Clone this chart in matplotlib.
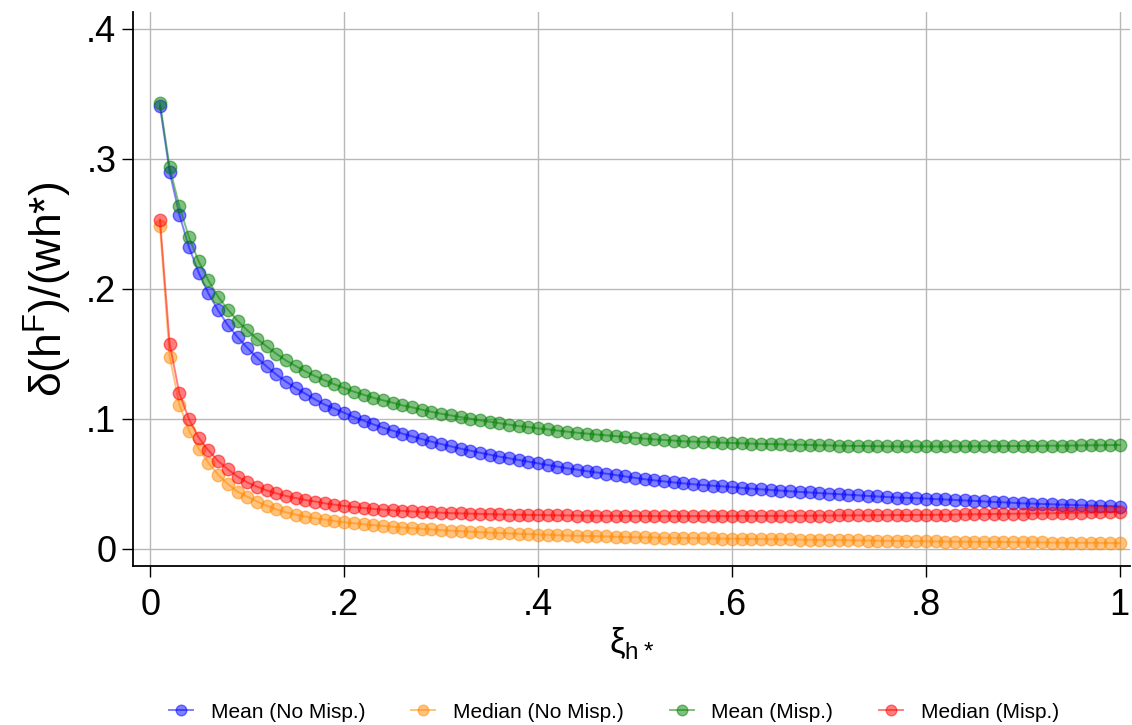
import numpy as np
import matplotlib.pyplot as plt

plt.rcParams['font.family'] = ['Liberation Sans', 'DejaVu Sans']
plt.rcParams['mathtext.fontset'] = 'custom'
plt.rcParams['mathtext.rm'] = 'Liberation Sans'

# elasticity grid 0.01 .. 1.00
xi = np.arange(1, 101) / 100

mean_no_misp = [
    0.3405, 0.2900, 0.2570, 0.2318, 0.2123, 0.1964, 0.1833, 0.1720, 0.1628, 0.1546,
    0.1470, 0.1402, 0.1340, 0.1285, 0.1235, 0.1192, 0.1148, 0.1108, 0.1077, 0.1046,
    0.1012, 0.0985, 0.0956, 0.0931, 0.0908, 0.0885, 0.0864, 0.0843, 0.0823, 0.0805,
    0.0787, 0.0769, 0.0754, 0.0738, 0.0723, 0.0708, 0.0695, 0.0682, 0.0669, 0.0656,
    0.0643, 0.0631, 0.0618, 0.0608, 0.0596, 0.0586, 0.0577, 0.0566, 0.0555, 0.0544,
    0.0534, 0.0525, 0.0517, 0.0509, 0.0502, 0.0495, 0.0489, 0.0484, 0.0479, 0.0474,
    0.0467, 0.0461, 0.0456, 0.0451, 0.0446, 0.0441, 0.0436, 0.0432, 0.0427, 0.0423,
    0.0419, 0.0414, 0.0410, 0.0405, 0.0401, 0.0397, 0.0393, 0.0390, 0.0388, 0.0385,
    0.0381, 0.0378, 0.0374, 0.0370, 0.0367, 0.0363, 0.0359, 0.0356, 0.0352, 0.0348,
    0.0346, 0.0343, 0.0341, 0.0338, 0.0336, 0.0333, 0.0331, 0.0328, 0.0326, 0.0323,
]

median_no_misp = [
    0.2482, 0.1477, 0.1108, 0.0908, 0.0769, 0.0659, 0.0569, 0.0497, 0.0438, 0.0400,
    0.0362, 0.0331, 0.0302, 0.0279, 0.0262, 0.0246, 0.0233, 0.0223, 0.0212, 0.0202,
    0.0195, 0.0187, 0.0180, 0.0174, 0.0168, 0.0162, 0.0157, 0.0152, 0.0147, 0.0142,
    0.0138, 0.0134, 0.0130, 0.0126, 0.0123, 0.0120, 0.0117, 0.0114, 0.0111, 0.0108,
    0.0106, 0.0103, 0.0101, 0.0099, 0.0097, 0.0095, 0.0093, 0.0091, 0.0089, 0.0087,
    0.0086, 0.0085, 0.0083, 0.0082, 0.0081, 0.0080, 0.0079, 0.0078, 0.0077, 0.0076,
    0.0075, 0.0074, 0.0073, 0.0072, 0.0071, 0.0070, 0.0069, 0.0068, 0.0067, 0.0066,
    0.0065, 0.0064, 0.0063, 0.0062, 0.0061, 0.0060, 0.0059, 0.0058, 0.0057, 0.0056,
    0.0055, 0.0054, 0.0053, 0.0053, 0.0052, 0.0051, 0.0050, 0.0050, 0.0049, 0.0048,
    0.0047, 0.0047, 0.0046, 0.0046, 0.0045, 0.0045, 0.0044, 0.0044, 0.0043, 0.0043,
]

mean_misp = [
    0.3430, 0.2935, 0.2635, 0.2395, 0.2210, 0.2064, 0.1938, 0.1840, 0.1754, 0.1680,
    0.1615, 0.1556, 0.1500, 0.1448, 0.1405, 0.1364, 0.1328, 0.1295, 0.1264, 0.1236,
    0.1208, 0.1184, 0.1161, 0.1141, 0.1123, 0.1102, 0.1087, 0.1069, 0.1053, 0.1038,
    0.1025, 0.1012, 0.1000, 0.0987, 0.0977, 0.0966, 0.0954, 0.0943, 0.0935, 0.0925,
    0.0918, 0.0908, 0.0900, 0.0892, 0.0885, 0.0878, 0.0872, 0.0866, 0.0859, 0.0852,
    0.0846, 0.0841, 0.0836, 0.0831, 0.0826, 0.0823, 0.0821, 0.0818, 0.0815, 0.0813,
    0.0810, 0.0808, 0.0806, 0.0804, 0.0803, 0.0801, 0.0799, 0.0797, 0.0795, 0.0794,
    0.0792, 0.0791, 0.0790, 0.0789, 0.0788, 0.0787, 0.0786, 0.0786, 0.0786, 0.0786,
    0.0786, 0.0786, 0.0787, 0.0787, 0.0787, 0.0788, 0.0788, 0.0789, 0.0789, 0.0790,
    0.0790, 0.0791, 0.0792, 0.0792, 0.0793, 0.0794, 0.0795, 0.0795, 0.0796, 0.0797,
]

median_misp = [
    0.2533, 0.1577, 0.1195, 0.0995, 0.0854, 0.0756, 0.0674, 0.0610, 0.0554, 0.0510,
    0.0477, 0.0448, 0.0425, 0.0405, 0.0389, 0.0374, 0.0362, 0.0348, 0.0338, 0.0328,
    0.0320, 0.0312, 0.0305, 0.0300, 0.0295, 0.0290, 0.0286, 0.0282, 0.0279, 0.0276,
    0.0273, 0.0271, 0.0269, 0.0267, 0.0265, 0.0263, 0.0262, 0.0260, 0.0259, 0.0258,
    0.0257, 0.0256, 0.0255, 0.0254, 0.0254, 0.0253, 0.0252, 0.0252, 0.0251, 0.0251,
    0.0251, 0.0250, 0.0250, 0.0250, 0.0250, 0.0250, 0.0250, 0.0250, 0.0250, 0.0250,
    0.0251, 0.0251, 0.0251, 0.0252, 0.0252, 0.0252, 0.0253, 0.0253, 0.0254, 0.0254,
    0.0255, 0.0255, 0.0256, 0.0256, 0.0257, 0.0257, 0.0258, 0.0258, 0.0259, 0.0259,
    0.0260, 0.0261, 0.0262, 0.0263, 0.0264, 0.0265, 0.0266, 0.0267, 0.0268, 0.0269,
    0.0270, 0.0271, 0.0272, 0.0274, 0.0275, 0.0276, 0.0278, 0.0279, 0.0281, 0.0282,
]

series = [
    ('Mean (No Misp.)', mean_no_misp, 'blue'),
    ('Median (No Misp.)', median_no_misp, '#ff8800'),
    ('Mean (Misp.)', mean_misp, 'green'),
    ('Median (Misp.)', median_misp, 'red'),
]

xticks = [0, 0.2, 0.4, 0.6, 0.8, 1.0]
xticklabels = ['0', '.2', '.4', '.6', '.8', '1']
yticks = [0, 0.1, 0.2, 0.3, 0.4]
yticklabels = ['0', '.1', '.2', '.3', '.4']

fig = plt.figure(figsize=(11.32, 7.25), dpi=100)
ax = fig.add_axes([0.1175, 0.219, 0.8805, 0.764])

for label, vals, col in series:
    ax.plot(xi, vals, '-o', color=col, alpha=0.5, lw=1.4, ms=9,
            mec=col, mfc=col, label=label)

ax.set_xlim(-0.0178, 1.0103)
ax.set_ylim(-0.0136, 0.4128)
ax.set_xticks(xticks, xticklabels)
ax.set_yticks(yticks, yticklabels)
ax.tick_params(labelsize=26, length=8, width=1, direction='out')
ax.tick_params(axis='x', pad=8)
ax.tick_params(axis='y', pad=4)
ax.grid(True, color='#b8b8b8', lw=1)
ax.set_axisbelow(True)
for s in ['top', 'right']:
    ax.spines[s].set_visible(False)
ax.spines['left'].set_linewidth(1.3)
ax.spines['bottom'].set_linewidth(1.3)

ax.set_xlabel('ξ$_\\mathregular{h*}$', fontsize=25, labelpad=1)
ax.set_ylabel('δ(h$^\\mathregular{F}$)/(wh*)', fontsize=32, labelpad=9)

fig.legend(loc='center', bbox_to_anchor=(614 / 1132, 1 - 712 / 725), ncol=4,
           frameon=False, fontsize=15, handlelength=1.15, handletextpad=0.85,
           columnspacing=2.2, markerscale=0.85)

fig.savefig('out.png', dpi=100)
